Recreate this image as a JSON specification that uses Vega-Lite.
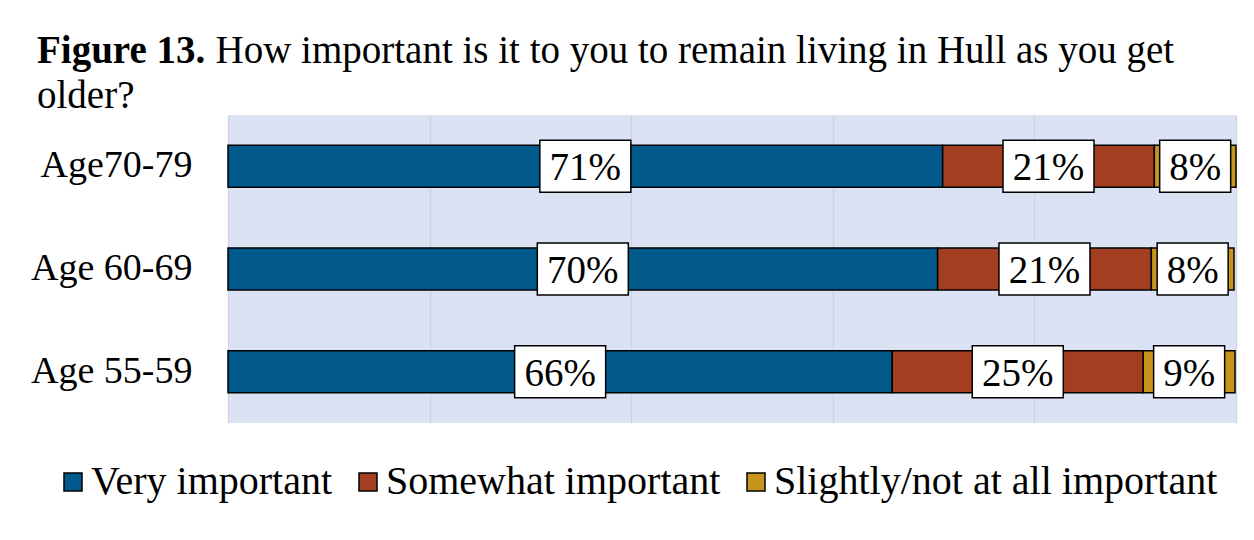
{
  "$schema": "https://vega.github.io/schema/vega-lite/v6.json",
  "autosize": "none",
  "width": 1008,
  "height": 308,
  "padding": {"left": 228, "top": 115, "right": 18, "bottom": 117},
  "background": "white",
  "title": {
    "text": "Figure 13.",
    "subtitle": "older?",
    "anchor": "start",
    "frame": "group",
    "dx": -191,
    "dy": 85,
    "offset": 0,
    "font": "Liberation Serif",
    "fontSize": 39,
    "fontWeight": "bold",
    "color": "black",
    "subtitleFont": "Liberation Serif",
    "subtitleFontSize": 39,
    "subtitleColor": "black",
    "subtitlePadding": 6
  },
  "data": {
    "values": [
      {"age": "Age70-79", "category": "Very important", "value": 70.9},
      {"age": "Age70-79", "category": "Somewhat important", "value": 21.0},
      {"age": "Age70-79", "category": "Slightly/not at all important", "value": 8.1},
      {"age": "Age 60-69", "category": "Very important", "value": 70.4},
      {"age": "Age 60-69", "category": "Somewhat important", "value": 21.2},
      {"age": "Age 60-69", "category": "Slightly/not at all important", "value": 8.2},
      {"age": "Age 55-59", "category": "Very important", "value": 65.9},
      {"age": "Age 55-59", "category": "Somewhat important", "value": 24.9},
      {"age": "Age 55-59", "category": "Slightly/not at all important", "value": 9.1}
    ]
  },
  "transform": [
    {"calculate": "indexof(['Very important','Somewhat important','Slightly/not at all important'], datum.category)", "as": "k"},
    {"stack": "value", "groupby": ["age"], "sort": [{"field": "k", "order": "ascending"}], "as": ["v0", "v1"]},
    {"calculate": "(datum.v0 + datum.v1) / 2", "as": "mid"},
    {"calculate": "format(datum.value, '.0f') + '%'", "as": "label"}
  ],
  "encoding": {
    "y": {
      "field": "age",
      "type": "nominal",
      "sort": ["Age70-79", "Age 60-69", "Age 55-59"],
      "scale": {"paddingInner": 0, "paddingOuter": 0},
      "axis": {
        "title": "How important is it to you to remain living in Hull as you get",
        "titleAngle": 0,
        "titleX": -13,
        "titleY": -53,
        "titleAlign": "left",
        "titleBaseline": "alphabetic",
        "titleFont": "Liberation Serif",
        "titleFontSize": 39,
        "titleFontWeight": "normal",
        "titleColor": "black",
        "labelFont": "Liberation Serif",
        "labelFontSize": 38,
        "labelColor": "black",
        "labelPadding": 36,
        "ticks": false,
        "domain": false
      }
    }
  },
  "layer": [
    {
      "mark": {"type": "bar", "size": 42, "stroke": "black", "strokeWidth": 1.5},
      "encoding": {
        "x": {"field": "v0", "type": "quantitative", "title": null, "scale": {"domain": [0, 100], "nice": false}},
        "x2": {"field": "v1"},
        "color": {
          "field": "category",
          "type": "nominal",
          "sort": ["Very important", "Somewhat important", "Slightly/not at all important"],
          "scale": {"domain": ["Very important", "Somewhat important", "Slightly/not at all important"], "range": ["#025A8C", "#A33F20", "#C7951B"]},
          "legend": {
            "orient": "none",
            "legendX": -175,
            "legendY": 347,
            "direction": "horizontal",
            "title": null,
            "labelFont": "Liberation Serif",
            "labelFontSize": 40,
            "labelColor": "black",
            "labelLimit": 0,
            "labelOffset": -2,
            "columnPadding": 15,
            "symbolType": "square",
            "symbolSize": 324,
            "symbolStrokeColor": "black",
            "symbolStrokeWidth": 1.5
          }
        }
      }
    },
    {
      "mark": {"type": "point", "filled": true, "fill": "white", "stroke": "black", "strokeWidth": 1.5, "opacity": 1},
      "encoding": {
        "x": {"field": "mid", "type": "quantitative", "title": null},
        "shape": {
          "condition": {"test": "length(datum.label) > 2", "value": "M-1,-0.571H1V0.571H-1Z"},
          "value": "M-1,-0.732H1V0.732H-1Z"
        },
        "size": {
          "condition": {"test": "length(datum.label) > 2", "value": 8281},
          "value": 5041
        }
      }
    },
    {
      "mark": {"type": "text", "font": "Liberation Serif", "fontSize": 39, "color": "black", "baseline": "middle", "dy": 2},
      "encoding": {
        "x": {"field": "mid", "type": "quantitative", "title": null},
        "text": {"field": "label"}
      }
    }
  ],
  "config": {
    "view": {"fill": "#DAE2F3", "stroke": null},
    "axisX": {
      "grid": true,
      "gridColor": "#CDD3DC",
      "gridWidth": 1.2,
      "labels": false,
      "ticks": false,
      "domain": false,
      "tickCount": 5
    },
    "axisY": {"grid": false}
  }
}
